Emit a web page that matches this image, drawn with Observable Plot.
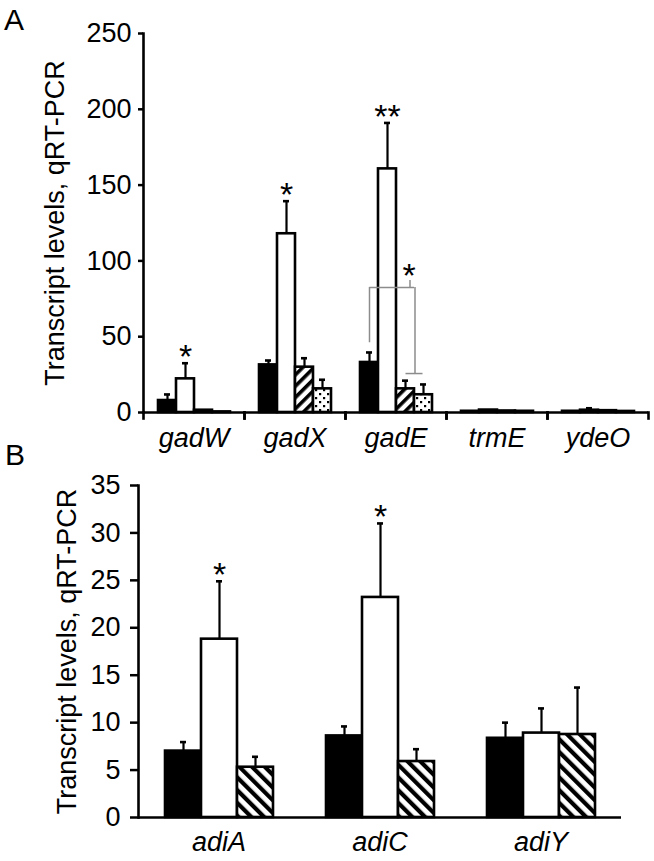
<!DOCTYPE html>
<html><head><meta charset="utf-8">
<script src="https://cdn.jsdelivr.net/npm/d3@7"></script>
<script src="https://cdn.jsdelivr.net/npm/@observablehq/plot@0.6"></script>
<style>
body{margin:0;background:#fff;font-family:"Liberation Sans",Arial,sans-serif}
#wrap{position:relative;width:654px;height:861px;overflow:hidden}
.panel{position:absolute;left:0}
.tag{position:absolute;font-size:30px;line-height:1;color:#000}
</style></head><body>
<div id="wrap">
  <div id="pa" class="panel" style="top:0"></div>
  <div id="pb" class="panel" style="top:455px"></div>
  <div class="tag" style="left:4px;top:5px">A</div>
  <div class="tag" style="left:5px;top:440px">B</div>
</div>
<script>
// ---------- Panel A data ----------
const genesA = ["gadW", "gadX", "gadE", "trmE", "ydeO"];
const condsA = ["solid", "open", "hatched", "dotted"];
const solidA   = [7.9, 31.4, 33.0, 0.8, 0.8];
const openA    = [22.2, 117.9, 160.7, 1.6, 1.5];
const hatchedA = [1.5, 29.9, 15.6, 1.0, 1.2];
const dottedA  = [0.4, 15.6, 11.7, 0.8, 0.7];
const solidSdA   = [4.0, 2.9, 6.6, 0, 0];
const openSdA    = [10.3, 21.5, 30.3, 0, 1.3];
const hatchedSdA = [0, 5.9, 5.4, 0, 0];
const dottedSdA  = [0, 6.0, 6.8, 0, 0];
const starsOpenA = ["*", "*", "**", "", ""];
const ticksA = [0, 50, 100, 150, 200, 250];
// bracket (gadE: solid vs hatched/dotted)
const bracketGeneA = "gadE";
const bracketTopA = 82.5, bracketLeftFootA = 46, bracketRightFootA = 25.7, bracketTickA = 87;
const bracketStarA = "*";

// ---------- Panel B data ----------
const genesB = ["adiA", "adiC", "adiY"];
const condsB = ["solid", "open", "hatched"];
const solidB   = [7.0, 8.6, 8.35];
const openB    = [18.8, 23.2, 8.9];
const hatchedB = [5.3, 5.9, 8.75];
const solidSdB   = [0.95, 1.0, 1.65];
const openSdB    = [6.1, 7.8, 2.6];
const hatchedSdB = [1.1, 1.3, 4.95];
const starsOpenB = ["*", "*", ""];
const ticksB = [0, 5, 10, 15, 20, 25, 30, 35];

const yLabel = "Transcript levels, qRT-PCR";
const FONT = "'Liberation Sans', Arial, sans-serif";

function rows(genes, conds, vals, sds, stars) {
  const out = [];
  genes.forEach((g, i) => conds.forEach((c, j) => {
    const v = vals[j][i], s = sds[j][i];
    out.push({gene: g, cond: c, value: v, sd: s, hi: v + s, star: c === "open" ? stars[i] : ""});
  }));
  return out;
}
const dataA = rows(genesA, condsA, [solidA, openA, hatchedA, dottedA], [solidSdA, openSdA, hatchedSdA, dottedSdA], starsOpenA);
const dataB = rows(genesB, condsB, [solidB, openB, hatchedB], [solidSdB, openSdB, hatchedSdB], starsOpenB);

const fills = {solid: "black", open: "white", hatched: "url(#hatchA)", dotted: "url(#dotsA)"};
const fillsB = {solid: "black", open: "white", hatched: "url(#hatchB)"};

function barMarks(data, conds, fillMap, capInset) {
  const marks = [];
  for (const c of conds) {
    marks.push(Plot.barY(data, {filter: d => d.cond === c, fx: "gene", x: "cond", y: "value",
      fill: fillMap[c], stroke: "black", strokeWidth: 2.6}));
  }
  const err = data.filter(d => d.sd > 0);
  marks.push(Plot.ruleX(err, {fx: "gene", x: "cond", y1: "value", y2: "hi", stroke: "black", strokeWidth: 2.2}));
  marks.push(Plot.tickY(err, {fx: "gene", x: "cond", y: "hi", stroke: "black", strokeWidth: 2.6, insetLeft: capInset, insetRight: capInset}));
  marks.push(Plot.text(data.filter(d => d.star), {fx: "gene", x: "cond", y: "hi", text: "star",
    fontSize: 34, lineAnchor: "middle", dy: -6, fill: "black"}));
  return marks;
}

// ---------- Panel A ----------
const WA = 654, HA = 455, mlA = 142, mrA = 5, mtA = 33, mbA = 43;
const padOutA = 0.67;
const bwA = ((WA - mlA - mrA) / genesA.length) / (condsA.length + 2 * padOutA);
const innerHA = HA - mtA - mbA;
const bracketRow = [{gene: bracketGeneA}];
const grey = "#8c8c8c";

const plotA = Plot.plot({
  width: WA, height: HA,
  marginLeft: mlA, marginRight: mrA, marginTop: mtA, marginBottom: mbA,
  style: {fontFamily: FONT, background: "white", color: "black"},
  fx: {domain: genesA, padding: 0, label: null},
  x: {domain: condsA, paddingInner: 0, paddingOuter: padOutA, axis: null},
  y: {domain: [0, 250], label: null},
  marks: [
    Plot.axisY({ticks: ticksA, tickSize: 5, tickPadding: 7, fontSize: 27, strokeWidth: 2.5,
      label: yLabel, labelAnchor: "center", labelOffset: 99, labelArrow: "none"}),
    Plot.axisFx({anchor: "bottom", tickSize: 0, tickPadding: 15, fontSize: 27, fontStyle: "italic", label: null}),
    ...barMarks(dataA, condsA, fills, (bwA - 7) / 2),
    // bracket
    Plot.ruleX(bracketRow, {fx: "gene", x: () => "solid", y1: () => bracketLeftFootA, y2: () => bracketTopA, stroke: grey, strokeWidth: 1.5}),
    Plot.ruleY(bracketRow, {fx: "gene", x1: () => "solid", x2: () => "hatched", y: () => bracketTopA, insetLeft: bwA / 2, stroke: grey, strokeWidth: 1.5}),
    Plot.ruleX(bracketRow, {fx: "gene", x: () => "hatched", dx: bwA / 2, y1: () => bracketRightFootA, y2: () => bracketTopA, stroke: grey, strokeWidth: 1.5}),
    Plot.ruleY(bracketRow, {fx: "gene", x1: () => "hatched", x2: () => "dotted", y: () => bracketRightFootA, insetLeft: bwA / 2, insetRight: bwA / 2, stroke: grey, strokeWidth: 1.5}),
    Plot.ruleX(bracketRow, {fx: "gene", x: () => "hatched", dx: bwA / 2 - 5, y1: () => bracketTopA, y2: () => bracketTickA, stroke: grey, strokeWidth: 1.5}),
    Plot.text(bracketRow, {fx: "gene", x: () => "hatched", dx: bwA / 2 - 6, y: () => bracketTickA, text: () => bracketStarA, fontSize: 34, lineAnchor: "middle", dy: -4, fill: "black"}),
    // axes lines
    Plot.ruleY([0], {stroke: "black", strokeWidth: 2.6}),
    Plot.frame({anchor: "left", facet: "super", stroke: "black", strokeWidth: 2.6}),
    Plot.frame({anchor: "left", insetTop: innerHA, insetBottom: -6, stroke: "black", strokeWidth: 2.6}),
    Plot.frame({anchor: "right", insetTop: innerHA, insetBottom: -6, stroke: "black", strokeWidth: 2.6})
  ]
});

// ---------- Panel B ----------
const WB = 654, HB = 406, mlB = 137, mrB = 32, mtB = 30, mbB = 44;
const padOutB = 0.685;
const bwB = ((WB - mlB - mrB) / genesB.length) / (condsB.length + 2 * padOutB);

const plotB = Plot.plot({
  width: WB, height: HB,
  marginLeft: mlB, marginRight: mrB, marginTop: mtB, marginBottom: mbB,
  style: {fontFamily: FONT, background: "white", color: "black"},
  fx: {domain: genesB, padding: 0, label: null},
  x: {domain: condsB, paddingInner: 0, paddingOuter: padOutB, axis: null},
  y: {domain: [0, 35], label: null},
  marks: [
    Plot.axisY({ticks: ticksB, tickSize: 8, tickPadding: 10, fontSize: 27, strokeWidth: 2.5,
      label: yLabel, labelAnchor: "center", labelOffset: 82, labelArrow: "none"}),
    Plot.axisFx({anchor: "bottom", tickSize: 0, tickPadding: 14, fontSize: 27, fontStyle: "italic", label: null}),
    ...barMarks(dataB, condsB, fillsB, (bwB - 7) / 2),
    Plot.ruleY([0], {stroke: "black", strokeWidth: 2.6}),
    Plot.frame({anchor: "left", facet: "super", stroke: "black", strokeWidth: 2.6})
  ]
});

// pattern definitions
const defs = `
<defs>
  <pattern id="hatchA" patternUnits="userSpaceOnUse" width="8" height="8" patternTransform="rotate(45)">
    <rect width="8" height="8" fill="white"/><rect x="0" y="0" width="3.6" height="8" fill="black"/>
  </pattern>
  <pattern id="dotsA" patternUnits="userSpaceOnUse" width="8" height="8">
    <rect width="8" height="8" fill="white"/>
    <rect x="1" y="1" width="2.2" height="2.2" fill="black"/>
    <rect x="5" y="5" width="2.2" height="2.2" fill="black"/>
  </pattern>
  <pattern id="hatchB" patternUnits="userSpaceOnUse" width="9" height="9" patternTransform="rotate(-45)">
    <rect width="9" height="9" fill="white"/><rect x="0" y="0" width="4.2" height="9" fill="black"/>
  </pattern>
</defs>`;
for (const p of [plotA, plotB]) {
  p.insertAdjacentHTML("afterbegin", defs);
}
document.getElementById("pa").appendChild(plotA);
document.getElementById("pb").appendChild(plotB);
</script>
</body></html>
